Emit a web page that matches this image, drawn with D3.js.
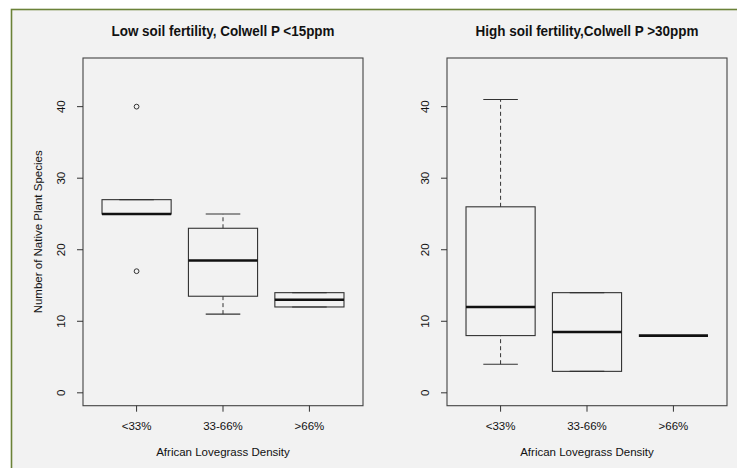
<!DOCTYPE html>
<head>
<meta charset="utf-8">
<style>
body { margin: 0; background: #fff; }
text { font-family: "Liberation Sans", Arial, sans-serif; fill: #111; }
.title { font-weight: bold; font-size: 14px; }
.tick-lbl { font-size: 11.5px; }
.axis-title { font-size: 11.5px; }
</style>
<title>Native plant species vs African Lovegrass density</title>
</head>
<body>
<svg width="737" height="468"></svg>
<script src="https://cdn.jsdelivr.net/npm/d3@7"></script>
<script>
/* global d3 */
var categories = ["<33%", "33-66%", ">66%"]
var yTicks = [0, 10, 20, 30, 40]
var titles = ["Low soil fertility, Colwell P <15ppm", "High soil fertility,Colwell P >30ppm"]
var xTitle = "African Lovegrass Density"
var yTitle = "Number of Native Plant Species"

// low fertility panel
var lowWhiskerLo = [25, 11, 12]
var lowQ1 = [25, 13.5, 12]
var lowMedian = [25, 18.5, 13]
var lowQ3 = [27, 23, 14]
var lowWhiskerHi = [27, 25, 14]
var lowOutliers = [[40, 17], [], []]

// high fertility panel
var highWhiskerLo = [4, 3, 8]
var highQ1 = [8, 3, 8]
var highMedian = [12, 8.5, 8]
var highQ3 = [26, 14, 8]
var highWhiskerHi = [41, 14, 8]
var highOutliers = [[], [], []]

var panels = [
  {title: titles[0], left: 83, lo: lowWhiskerLo, q1: lowQ1, med: lowMedian, q3: lowQ3, hi: lowWhiskerHi, out: lowOutliers, ylab: true},
  {title: titles[1], left: 447, lo: highWhiskerLo, q1: highQ1, med: highMedian, q3: highQ3, hi: highWhiskerHi, out: highOutliers, ylab: false}
]

var svg = d3.select("svg")
svg.append("rect")
    .attr("x", 11.5).attr("y", 9.5)
    .attr("width", 740).attr("height", 470)
    .attr("fill", "#f2f2f2")
    .attr("stroke", "#6b8238")
    .attr("stroke-width", 1.6)

var plotTop = 58, plotBottom = 405.7, pw = 280
// R style 4% axis extension
var y = d3.scaleLinear().domain([0 - 45 * 0.04, 45 + 45 * 0.04]).range([plotBottom, plotTop])
var boxW = 0.8

panels.forEach(function(p) {
  var x = d3.scaleLinear().domain([0.5 - 0.12, 3.5 + 0.12]).range([p.left, p.left + pw])
  var g = svg.append("g")
  var ux = x(2) - x(1)

  g.append("text").attr("class", "title")
      .attr("x", p.left + pw / 2).attr("y", 36)
      .attr("text-anchor", "middle")
      .attr("textLength", 223).attr("lengthAdjust", "spacingAndGlyphs")
      .text(p.title)

  g.append("rect")
      .attr("x", p.left).attr("y", plotTop)
      .attr("width", pw).attr("height", plotBottom - plotTop)
      .attr("fill", "none").attr("stroke", "#444").attr("stroke-width", 1.1)

  // y axis
  g.selectAll(".yt").data(yTicks).enter().append("line")
      .attr("x1", p.left - 6).attr("x2", p.left)
      .attr("y1", d => y(d)).attr("y2", d => y(d))
      .attr("stroke", "#333")
  g.selectAll(".yl").data(yTicks).enter().append("text")
      .attr("class", "tick-lbl")
      .attr("transform", d => "translate(" + (p.left - 18) + "," + y(d) + ") rotate(-90)")
      .attr("text-anchor", "middle")
      .text(d => d)

  // x axis
  g.selectAll(".xt").data(categories).enter().append("line")
      .attr("x1", (d, i) => x(i + 1)).attr("x2", (d, i) => x(i + 1))
      .attr("y1", plotBottom).attr("y2", plotBottom + 6)
      .attr("stroke", "#333")
  g.selectAll(".xl").data(categories).enter().append("text")
      .attr("class", "tick-lbl")
      .attr("x", (d, i) => x(i + 1)).attr("y", 430)
      .attr("text-anchor", "middle")
      .text(d => d)
  g.append("text").attr("class", "axis-title")
      .attr("x", p.left + pw / 2).attr("y", 456)
      .attr("text-anchor", "middle")
      .text(xTitle)
  if (p.ylab) {
    g.append("text").attr("class", "axis-title")
        .attr("transform", "translate(42," + (plotTop + plotBottom) / 2 + ") rotate(-90)")
        .attr("text-anchor", "middle")
        .text(yTitle)
  }

  categories.forEach(function(c, i) {
    var cx = x(i + 1), hw = boxW / 2 * ux, sw = hw / 2
    // whiskers
    ;[[p.lo[i], p.q1[i]], [p.q3[i], p.hi[i]]].forEach(function(w) {
      if (w[0] === w[1]) return
      g.append("line").attr("x1", cx).attr("x2", cx)
          .attr("y1", y(w[0])).attr("y2", y(w[1]))
          .attr("stroke", "#333").attr("stroke-dasharray", "4,3")
    })
    ;[p.lo[i], p.hi[i]].forEach(function(v) {
      g.append("line").attr("x1", cx - sw).attr("x2", cx + sw)
          .attr("y1", y(v)).attr("y2", y(v))
          .attr("stroke", "#333").attr("stroke-width", 1.1)
    })
    g.append("rect")
        .attr("x", cx - hw).attr("y", y(p.q3[i]))
        .attr("width", 2 * hw).attr("height", y(p.q1[i]) - y(p.q3[i]))
        .attr("fill", "none").attr("stroke", "#333").attr("stroke-width", 1.1)
    g.append("line").attr("x1", cx - hw).attr("x2", cx + hw)
        .attr("y1", y(p.med[i])).attr("y2", y(p.med[i]))
        .attr("stroke", "#111").attr("stroke-width", 2.6)
    g.selectAll(null).data(p.out[i]).enter().append("circle")
        .attr("cx", cx).attr("cy", d => y(d)).attr("r", 2.4)
        .attr("fill", "none").attr("stroke", "#333")
  })
})
</script>
</body>
